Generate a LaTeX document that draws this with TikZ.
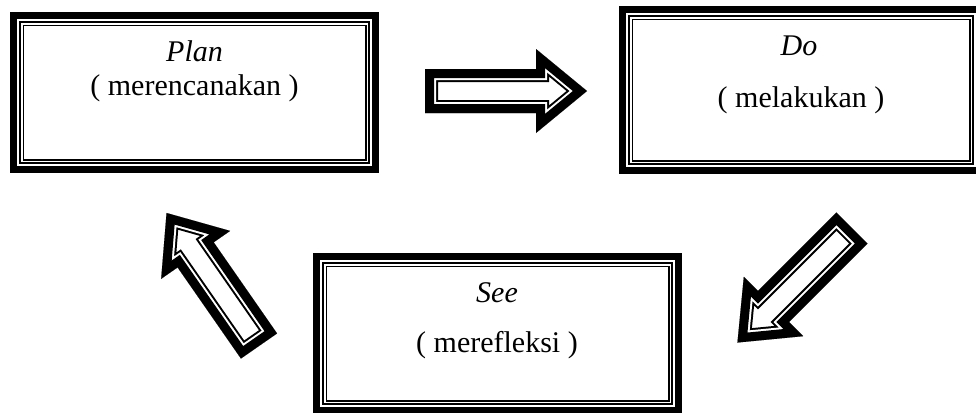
\documentclass[tikz,border=0pt]{standalone}
\usepackage{fontspec}
\setmainfont{Liberation Serif}
\newcommand\wordframe[1]{%
  \fill[black] (#1.north west) rectangle (#1.south east);
  \fill[white] ([shift={(7,7)}]#1.north west) rectangle ([shift={(-7,-7)}]#1.south east);
  \fill[black] ([shift={(9,9)}]#1.north west) rectangle ([shift={(-9,-9)}]#1.south east);
  \fill[white] ([shift={(11,11)}]#1.north west) rectangle ([shift={(-11,-11)}]#1.south east);
  \fill[black] ([shift={(12.5,12.5)}]#1.north west) rectangle ([shift={(-12.5,-12.5)}]#1.south east);
  \fill[white] ([shift={(13.6,13.6)}]#1.north west) rectangle ([shift={(-13.6,-13.6)}]#1.south east);
}
\newcommand\blockarrow[2]{%
  \begin{scope}[shift={(#1)},rotate=#2,line join=miter]
    \fill[white] (0,-22) -- (111,-22) -- (111,-42) -- (162,0) -- (111,42) -- (111,22) -- (0,22) -- cycle;
    \begin{scope}
      \clip (0,-22) -- (111,-22) -- (111,-42) -- (162,0) -- (111,42) -- (111,22) -- (0,22) -- cycle;
      \draw[black,line width=19.5pt] (0,-22) -- (111,-22) -- (111,-42) -- (162,0) -- (111,42) -- (111,22) -- (0,22) -- cycle;
      \draw[white,line width=16.5pt] (0,-22) -- (111,-22) -- (111,-42) -- (162,0) -- (111,42) -- (111,22) -- (0,22) -- cycle;
      \draw[black,line width=13.5pt] (0,-22) -- (111,-22) -- (111,-42) -- (162,0) -- (111,42) -- (111,22) -- (0,22) -- cycle;
    \end{scope}
  \end{scope}}
\tikzset{
  boxnode/.style={rectangle,inner sep=0pt,outer sep=0pt,minimum width=369*0.75pt},
  lbl/.style={anchor=base,inner sep=0pt,font=\fontsize{22.5}{27}\selectfont}
}
\begin{document}
\begin{tikzpicture}[x=0.75pt,y=-0.75pt]
\useasboundingbox (0,0) rectangle (976,412);
\fill[white] (0,0) rectangle (976,412);
\clip (0,0) rectangle (976,412);
% boxes
\node[boxnode,minimum height=161*0.75pt] (plan) at (194.5,92.5) {};
\node[boxnode,minimum width=364*0.75pt,minimum height=168*0.75pt] (do) at (801,90) {};
\node[boxnode,minimum height=161*0.75pt] (see) at (497.5,333.5) {};
\wordframe{plan}
\wordframe{do}
\wordframe{see}
% texts
\node[lbl] (plant) at (194.5,61) {\textit{Plan}};
\node[lbl] (planb) at (194.5,95) {( merencanakan )};
\node[lbl] (dot) at (799,55) {\textit{Do}};
\node[lbl] (dob) at (801,107) {( melakukan )};
\node[lbl] (seet) at (497,302) {\textit{See}};
\node[lbl] (seeb) at (497,352) {( merefleksi )};
% arrows
\coordinate (a1) at (425,91);
\coordinate (a2) at (852,228);
\coordinate (a3) at (259,346);
\blockarrow{a1}{0}
\blockarrow{a2}{225}
\blockarrow{a3}{124.8}
\end{tikzpicture}
\end{document}
